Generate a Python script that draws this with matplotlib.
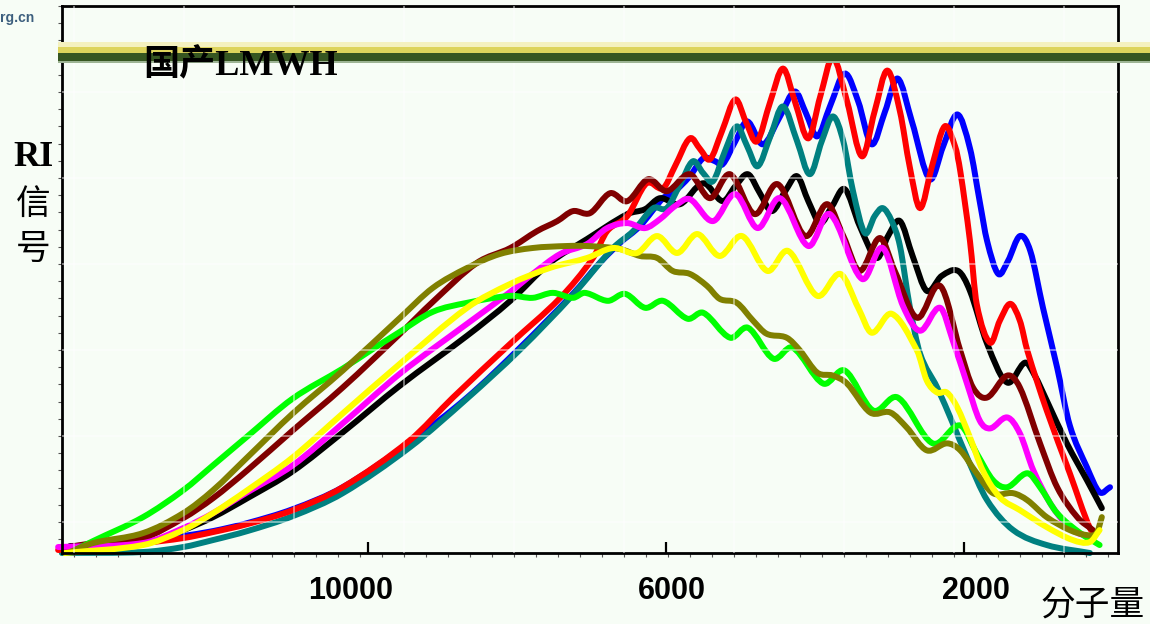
import numpy as np
import matplotlib
matplotlib.use("Agg")
import matplotlib.pyplot as plt
from matplotlib.patches import Rectangle, PathPatch
from matplotlib.path import Path

# ---- data (x = molecular weight, y = RI signal, arb. units) ----
blue_mw = [14070, 13020, 12480, 12080, 11620, 11010, 10340, 9440, 8670, 7960,
           7250, 6890, 6620, 6350, 6040, 5910, 5680, 5500, 5340, 5240,
           5070, 4910, 4700, 4470, 4270, 4120, 3970, 3800, 3600, 3420,
           3240, 3060, 2890, 2700, 2460, 2280, 2090, 1920, 1790, 1690,
           1540, 1410, 1250, 1110, 940, 750, 580, 350, 180, 40]
blue_ri = [5, 10, 17, 22, 30, 44, 66, 111, 156, 206,
           260, 291, 311, 328, 356, 361, 378, 396, 393, 390,
           413, 433, 410, 438, 463, 441, 418, 448, 481, 453,
           410, 443, 476, 433, 375, 408, 440, 406, 353, 313,
           280, 293, 318, 303, 246, 186, 128, 86, 61, 66]

red_mw = [14160, 13020, 12480, 12080, 11620, 11010, 10340, 9440, 8860, 8090,
          7420, 6980, 6790, 6520, 6260, 6040, 5880, 5680, 5540, 5410,
          5250, 5070, 4930, 4780, 4600, 4430, 4270, 4090, 3930, 3760,
          3570, 3370, 3200, 3030, 2860, 2730, 2590, 2430, 2260, 2120,
          2050, 1920, 1830, 1650, 1520, 1380, 1250, 1150, 890, 580, 310, 220]
red_ri = [3, 10, 15, 21, 29, 43, 66, 113, 156, 210,
          256, 296, 323, 338, 371, 366, 388, 416, 405, 395,
          423, 455, 433, 413, 453, 486, 453, 416, 458, 497,
          453, 398, 443, 484, 443, 388, 346, 388, 428, 408,
          383, 313, 250, 211, 233, 250, 233, 203, 143, 80, 25, 20]

teal_mw = [14110, 13020, 12480, 12080, 11620, 11010, 10340, 9440, 8670, 7960,
           7250, 6710, 6440, 6170, 5990, 5810, 5640, 5500, 5370, 5210,
           5050, 4910, 4770, 4600, 4430, 4240, 4070, 3910, 3760, 3620,
           3490, 3330, 3200, 3090, 2970, 2860, 2730, 2590, 2360, 2150,
           1960, 1690, 1340, 890, 310]
teal_ri = [0, 1, 6, 13, 22, 37, 60, 106, 155, 204,
           259, 306, 323, 346, 346, 370, 393, 381, 373, 403,
           428, 408, 388, 418, 448, 413, 380, 413, 438, 413,
           363, 321, 338, 346, 333, 308, 248, 200, 166, 130,
           96, 53, 23, 8, 0]

black_mw = [14000, 13020, 12480, 12080, 11620, 11010, 10340, 9570, 8670, 8090,
            7560, 7060, 6520, 6280, 6080, 5810, 5500, 5240, 5070, 4900,
            4740, 4580, 4400, 4240, 4090, 3930, 3770, 3600, 3400, 3170,
            3020, 2860, 2690, 2500, 2300, 2080, 1920, 1690, 1420, 1180,
            1050, 890, 620, 350, 150]
black_ri = [7, 10, 23, 36, 55, 82, 121, 168, 218, 253,
            291, 315, 340, 345, 356, 350, 371, 353, 368, 380,
            361, 343, 363, 378, 353, 331, 348, 365, 328, 296,
            318, 333, 298, 263, 278, 283, 263, 210, 171, 191,
            178, 153, 110, 73, 45]

maroon_mw = [14070, 13690, 13020, 12480, 12080, 11620, 11010, 10340, 9570, 9130,
             8540, 8090, 7730, 7460, 7250, 7020, 6750, 6520, 6240, 5990,
             5680, 5410, 5140, 4810, 4500, 4130, 3840, 3620, 3400, 3130,
             2930, 2630, 2320, 2050, 1880, 1690, 1420, 1250, 980, 750, 480, 270]
maroon_ri = [5, 10, 15, 35, 55, 83, 123, 166, 220, 252,
             291, 306, 323, 333, 343, 341, 361, 353, 375, 363,
             380, 356, 380, 340, 370, 318, 350, 318, 283, 316,
             283, 236, 268, 203, 166, 156, 178, 166, 110, 66, 36, 23]

magenta_mw = [14160, 13020, 12480, 12080, 11620, 11010, 10340, 9570, 8670, 8090,
              7790, 7420, 7060, 6790, 6520, 6280, 6080, 5880, 5680, 5370,
              5070, 4770, 4470, 4090, 3800, 3370, 3090, 2820, 2590, 2320,
              2150, 1960, 1790, 1650, 1420, 1250, 1070, 810, 540, 310]
magenta_ri = [6, 10, 25, 40, 61, 88, 130, 180, 230, 262,
              280, 300, 310, 326, 331, 326, 335, 348, 355, 333,
              360, 326, 356, 308, 340, 275, 306, 248, 223, 246,
              213, 170, 133, 125, 136, 120, 83, 46, 23, 16]

yellow_mw = [14070, 13020, 12480, 12080, 11620, 11010, 10340, 9570, 8670, 8090,
             7560, 7060, 6710, 6390, 6120, 5850, 5580, 5280, 4980, 4640,
             4360, 3970, 3660, 3420, 3240, 2970, 2630, 2500, 2360, 2230,
             2090, 1920, 1750, 1520, 1250, 890, 540, 310, 180]
yellow_ri = [0, 8, 23, 40, 63, 96, 140, 190, 246, 270,
             286, 296, 306, 301, 318, 301, 320, 298, 318, 283,
             303, 258, 280, 246, 221, 240, 203, 173, 161, 161,
             146, 116, 83, 56, 43, 26, 13, 11, 23]

green_mw = [13930, 13690, 13020, 12480, 12080, 11620, 11010, 10340, 9970, 9570,
            9130, 8670, 8090, 7790, 7520, 7250, 7090, 6780, 6550, 6280,
            6040, 5710, 5500, 5140, 4900, 4560, 4300, 3890, 3600, 3220,
            2890, 2420, 2050, 1830, 1610, 1420, 1150, 980, 750, 440, 180]
green_ri = [3, 12, 36, 63, 88, 117, 155, 185, 203, 222,
            242, 251, 258, 256, 261, 256, 261, 253, 260, 246,
            253, 235, 241, 216, 226, 195, 206, 170, 183, 143,
            156, 110, 128, 100, 73, 66, 80, 66, 40, 20, 8]

olive_mw = [14000, 13690, 13020, 12480, 12080, 11620, 11010, 10340, 9570, 9130,
            8670, 8230, 7790, 7330, 7060, 6620, 6350, 6120, 5910, 5680,
            5450, 5280, 5050, 4830, 4650, 4380, 4200, 3970, 3760, 3570,
            3260, 2990, 2770, 2500, 2230, 2050, 1830, 1610, 1340, 1150,
            890, 580, 350, 220, 150]
olive_ri = [1, 10, 20, 40, 63, 96, 140, 183, 236, 266,
            286, 300, 306, 308, 308, 305, 298, 296, 283, 280,
            268, 255, 251, 233, 220, 216, 203, 181, 178, 170,
            141, 141, 126, 103, 110, 103, 80, 60, 60, 53,
            36, 23, 18, 20, 36]

series = [
    (blue_mw, blue_ri, "#0000ff"),
    (black_mw, black_ri, "#000000"),
    (teal_mw, teal_ri, "#008080"),
    (red_mw, red_ri, "#ff0000"),
    (maroon_mw, maroon_ri, "#800000"),
    (magenta_mw, magenta_ri, "#ff00ff"),
    (green_mw, green_ri, "#00ff00"),
    (olive_mw, olive_ri, "#808000"),
    (yellow_mw, yellow_ri, "#ffff00"),
]

mw_ticks = [10000, 6000, 2000]
mw_labels = ["10000", "6000", "2000"]
label_pos = [10240, 5920, 1840]   # where the labels sit (they are a bit off the tick marks)

BG = "#f7fdf6"
cjk = ["Noto Sans CJK SC", "DejaVu Sans"]
serif_cjk = ["Liberation Serif", "Noto Sans CJK SC"]


def smooth_path(xs, ys):
    # smoothed line through the read points (like the "smooth line" option of the original software)
    x = np.asarray(xs, float)
    y = np.asarray(ys, float)
    m = np.empty(len(x))
    m[1:-1] = (y[2:] - y[:-2]) / (x[2:] - x[:-2])
    m[0] = (y[1] - y[0]) / (x[1] - x[0])
    m[-1] = (y[-1] - y[-2]) / (x[-1] - x[-2])
    verts = [(x[0], y[0])]
    codes = [Path.MOVETO]
    for i in range(len(x) - 1):
        dx = x[i + 1] - x[i]
        verts += [(x[i] + dx / 3, y[i] + m[i] * dx / 3),
                  (x[i + 1] - dx / 3, y[i + 1] - m[i + 1] * dx / 3),
                  (x[i + 1], y[i + 1])]
        codes += [Path.CURVE4] * 3
    return Path(verts, codes)


fig = plt.figure(figsize=(11.5, 6.24), dpi=100, facecolor=BG)
ax = fig.add_axes([62 / 1150, 1 - 553 / 624, 1056 / 1150, 547 / 624])
ax.set_facecolor(BG)

for mw, ri, col in series:
    ax.add_patch(PathPatch(smooth_path(mw, ri), facecolor="none", edgecolor=col, lw=4.3,
                           joinstyle="round", capstyle="round", clip_on=False))

ax.set_xlim(14108, -67)
ax.set_ylim(0, 547)

# faint white grid from the underlying elution-time axis
grid_x = [13947 - 1476.5 * k for k in range(10)]
grid_y = [31 + 86.3 * k for k in range(6)]
for gx in grid_x:
    ax.axvline(gx, color="white", lw=1.3, alpha=0.5, zorder=5)
for gy in grid_y:
    ax.axhline(gy, color="white", lw=1.3, alpha=0.5, zorder=5)

for sp in ax.spines.values():
    sp.set_linewidth(2.0)
    sp.set_color("black")

ax.set_xticks(mw_ticks)
ax.set_xticklabels([])
ax.set_xticks([13947 - 295.3 * k for k in range(48)], minor=True)
ax.tick_params(axis="x", which="major", direction="in", length=8, width=1.6, color="black")
ax.tick_params(axis="x", which="minor", direction="out", length=3, width=0.8, color="#555555")
ax.set_yticks([])
ax.set_yticks([31 + 17.26 * k - 17.26 for k in range(32)], minor=True)
ax.tick_params(axis="y", which="minor", direction="out", length=3, width=0.8, color="#555555")

for pos, lab in zip(label_pos, mw_labels):
    ax.text(pos, -0.0695, lab, transform=ax.get_xaxis_transform(), ha="center", va="center",
            fontsize=22, fontweight="bold", family="Liberation Sans")

# title band
band = [(42, 47, "#f4f1bf"), (47, 53, "#ddd45c"), (53, 61, "#365621"), (61, 63, "#9db494")]
for top, bot, col in band:
    fig.add_artist(Rectangle((58 / 1150, 1 - bot / 624), 1 - 58 / 1150, (bot - top) / 624,
                             transform=fig.transFigure, facecolor=col, edgecolor="none", zorder=3))

fig.text(143 / 1150, 1 - 66 / 624, "国产LMWH", fontsize=26, fontweight="bold", family=serif_cjk,
         ha="left", va="center", zorder=10)

fig.text(33 / 1150, 1 - 157 / 624, "RI", fontsize=26, fontweight="bold", family="Liberation Serif",
         ha="center", va="center")
fig.text(33 / 1150, 1 - 204 / 624, "信", fontsize=25, family=cjk, ha="center", va="center")
fig.text(33 / 1150, 1 - 249 / 624, "号", fontsize=25, family=cjk, ha="center", va="center")
fig.text(1093 / 1150, 1 - 605 / 624, "分子量", fontsize=25, family=cjk, ha="center", va="center")

# corner logo fragment
fig.text(0, 1 - 18 / 624, "rg.cn", fontsize=10, fontweight="bold", color="#3d5f7e",
         family="Liberation Sans", ha="left", va="center")

fig.savefig("out.png", dpi=100, facecolor=BG)
